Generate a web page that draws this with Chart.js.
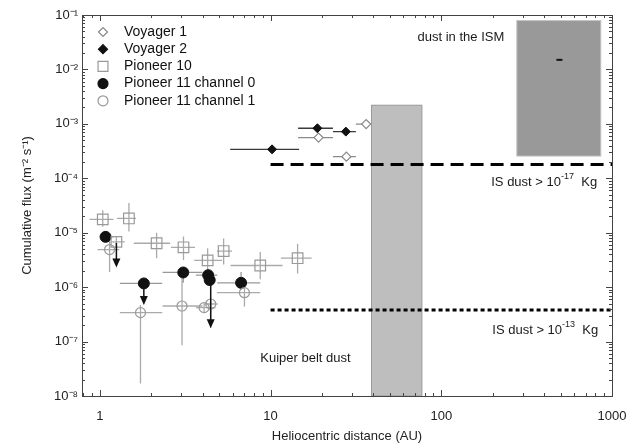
<!DOCTYPE html>
<html lang="en">
<head>
    <meta charset="UTF-8">
    <title>Cumulative dust flux vs heliocentric distance</title>
    <style>
        body {
            margin: 0;
            padding: 0;
            background-color: #ffffff;
        }
    </style>
</head>
<body>
    <canvas id="fluxChart" width="628" height="445"></canvas>

    <script src="https://cdn.jsdelivr.net/npm/chart.js"></script>
    <script>
        // axis ticks
        const xTickValues = [1, 10, 100, 1000];
        const yTickValues = [1e-8, 1e-7, 1e-6, 1e-5, 1e-4, 1e-3, 1e-2, 1e-1];

        // Voyager 1 (open diamonds)
        const v1X = [19.1, 27.8, 36.3];
        const v1Y = [5.6e-4, 2.5e-4, 9.9e-4];
        const v1XLo = [14.5, 23.2, 31.6];
        const v1XHi = [23.2, 31.6, 38.6];

        // Voyager 2 (filled diamonds)
        const v2X = [10.2, 18.8, 27.6];
        const v2Y = [3.4e-4, 8.3e-4, 7.2e-4];
        const v2XLo = [5.8, 14.5, 23.2];
        const v2XHi = [14.7, 23.2, 31.6];

        // Pioneer 10 (open squares)
        const p10X = [1.04, 1.48, 1.25, 2.15, 3.09, 4.28, 5.31, 8.7, 14.4];
        const p10Y = [1.76e-5, 1.83e-5, 6.8e-6, 6.4e-6, 5.4e-6, 3.1e-6, 4.6e-6, 2.5e-6, 3.4e-6];
        const p10XLo = [0.87, 1.26, 1.17, 1.58, 2.61, 3.57, 4.85, 5.83, 11.5];
        const p10XHi = [1.2, 1.63, 1.4, 2.58, 3.61, 5.2, 5.95, 11.75, 17.4];
        const p10YLo = [1.29e-5, 1.05e-5, 4.7e-6, 3.4e-6, 3.16e-6, 1.9e-6, 2.6e-6, 1.4e-6, 1.78e-6];
        const p10YHi = [2.6e-5, 3.5e-5, 8.5e-6, 1.0e-5, 8.5e-6, 5.2e-6, 7.8e-6, 4.4e-6, 6.3e-6];

        // Pioneer 11 channel 0 (filled circles)
        const p11aX = [1.08, 1.81, 3.08, 4.31, 4.4, 6.72];
        const p11aY = [8.4e-6, 1.17e-6, 1.86e-6, 1.66e-6, 1.35e-6, 1.2e-6];
        const p11aXLo = [1.0, 1.31, 2.33, 3.65, 4.2, 4.87];
        const p11aXHi = [1.2, 2.32, 3.99, 4.87, 4.6, 8.7];
        const p11aYLo = [7.5e-6, 1.17e-6, 1.2e-6, 1.5e-6, 1.35e-6, 8.9e-7];
        const p11aYHi = [9.5e-6, 1.17e-6, 2.2e-6, 1.85e-6, 1.35e-6, 1.9e-6];

        // Pioneer 11 channel 1 (open circles)
        const p11bX = [1.14, 1.73, 3.03, 4.08, 4.46, 7.03];
        const p11bY = [4.9e-6, 3.4e-7, 4.5e-7, 4.2e-7, 4.9e-7, 7.9e-7];
        const p11bXLo = [0.97, 1.31, 2.33, 3.65, 4.1, 4.85];
        const p11bXHi = [1.3, 2.32, 3.99, 4.76, 4.9, 8.7];
        const p11bYLo = [1.9e-6, 1.7e-8, 8.6e-8, 3.5e-7, 1.8e-7, 4.4e-7];
        const p11bYHi = [7.4e-6, 4.7e-7, 1.55e-6, 5.0e-7, 6.0e-7, 1.26e-6];

        // upper limits (arrows)
        const limX = [1.25, 1.81, 4.46];
        const limFrom = [6.5e-6, 1.17e-6, 1.35e-6];
        const limTo = [2.3e-6, 4.7e-7, 1.76e-7];

        // interstellar dust point
        const ismX = [492];
        const ismY = [1.5e-2];

        // shaded regions
        const kuiperX = [39, 77];
        const kuiperY = [1e-8, 2.2e-3];
        const ismBoxX = [277, 860];
        const ismBoxY = [2.56e-4, 7.9e-2];

        // IS dust flux levels
        const isLineX = [10, 1000];
        const is17Y = [1.8e-4, 1.8e-4];
        const is13Y = [3.8e-7, 3.8e-7];

        const legendItems = ['Voyager 1', 'Voyager 2', 'Pioneer 10', 'Pioneer 11 channel 0', 'Pioneer 11 channel 1'];

        const FONT = "'Liberation Sans', Arial, sans-serif";
        const SUP = { '-': '\u207B', '0': '\u2070', '1': '\u00B9', '2': '\u00B2', '3': '\u00B3', '4': '\u2074', '5': '\u2075', '6': '\u2076', '7': '\u2077', '8': '\u2078', '9': '\u2079' };

        function toPoints(xv, yv) {
            return xv.map((x, i) => ({ x: x, y: yv[i] }));
        }

        function rich(ctx, segs, x, y, align) {
            const base = '13px ' + FONT, small = '9px ' + FONT;
            let w = 0;
            segs.forEach(s => { ctx.font = s.sup ? small : base; w += ctx.measureText(s.t).width; });
            let cx = align === 'right' ? x - w : (align === 'center' ? x - w / 2 : x);
            ctx.textAlign = 'left';
            ctx.textBaseline = 'middle';
            segs.forEach(s => {
                ctx.font = s.sup ? small : base;
                ctx.fillText(s.t, cx, s.sup ? y - 6 : y);
                cx += ctx.measureText(s.t).width;
            });
        }

        function errorBars(ctx, px, py, X, Y, XLo, XHi, YLo, YHi, color) {
            ctx.strokeStyle = color;
            ctx.lineWidth = 1.3;
            ctx.beginPath();
            X.forEach((x, i) => {
                ctx.moveTo(px(XLo[i]), py(Y[i]));
                ctx.lineTo(px(XHi[i]), py(Y[i]));
                if (YLo) {
                    ctx.moveTo(px(x), py(YLo[i]));
                    ctx.lineTo(px(x), py(YHi[i]));
                }
            });
            ctx.stroke();
        }

        const extras = {
            id: 'extras',
            beforeDatasetsDraw(chart) {
                const ctx = chart.ctx;
                const px = v => chart.scales.x.getPixelForValue(v);
                const py = v => chart.scales.y.getPixelForValue(v);
                ctx.save();
                // shaded regions
                ctx.fillStyle = '#bebebe';
                ctx.strokeStyle = '#9a9a9a';
                ctx.lineWidth = 1;
                ctx.fillRect(px(kuiperX[0]), py(kuiperY[1]), px(kuiperX[1]) - px(kuiperX[0]), py(kuiperY[0]) - py(kuiperY[1]));
                ctx.strokeRect(px(kuiperX[0]), py(kuiperY[1]), px(kuiperX[1]) - px(kuiperX[0]), py(kuiperY[0]) - py(kuiperY[1]));
                ctx.fillStyle = '#999999';
                ctx.strokeStyle = '#c4c4c4';
                ctx.fillRect(px(ismBoxX[0]), py(ismBoxY[1]), px(ismBoxX[1]) - px(ismBoxX[0]), py(ismBoxY[0]) - py(ismBoxY[1]));
                ctx.strokeRect(px(ismBoxX[0]), py(ismBoxY[1]), px(ismBoxX[1]) - px(ismBoxX[0]), py(ismBoxY[0]) - py(ismBoxY[1]));
                // error bars
                errorBars(ctx, px, py, p10X, p10Y, p10XLo, p10XHi, p10YLo, p10YHi, '#aaaaaa');
                errorBars(ctx, px, py, p11bX, p11bY, p11bXLo, p11bXHi, p11bYLo, p11bYHi, '#aaaaaa');
                errorBars(ctx, px, py, p11aX, p11aY, p11aXLo, p11aXHi, p11aYLo, p11aYHi, '#999999');
                errorBars(ctx, px, py, v1X, v1Y, v1XLo, v1XHi, null, null, '#8a8a8a');
                errorBars(ctx, px, py, v2X, v2Y, v2XLo, v2XHi, null, null, '#3a3a3a');
                ctx.restore();
            },
            afterDatasetsDraw(chart) {
                const ctx = chart.ctx;
                const area = chart.chartArea;
                const px = v => chart.scales.x.getPixelForValue(v);
                const py = v => chart.scales.y.getPixelForValue(v);
                ctx.save();

                // upper-limit arrows
                ctx.strokeStyle = '#111';
                ctx.fillStyle = '#111';
                ctx.lineWidth = 1.5;
                limX.forEach((x, i) => {
                    const X = px(x), y0 = py(limFrom[i]), y1 = py(limTo[i]);
                    ctx.beginPath();
                    ctx.moveTo(X, y0);
                    ctx.lineTo(X, y1 - 8);
                    ctx.stroke();
                    ctx.beginPath();
                    ctx.moveTo(X - 4, y1 - 9);
                    ctx.lineTo(X + 4, y1 - 9);
                    ctx.lineTo(X, y1);
                    ctx.closePath();
                    ctx.fill();
                });

                // frame and inward ticks
                ctx.strokeStyle = '#444';
                ctx.lineWidth = 1;
                ctx.strokeRect(area.left + 0.5, area.top + 0.5, area.right - area.left, area.bottom - area.top);
                ctx.beginPath();
                for (let e = -1; e <= 3; e++) {
                    for (let k = 1; k <= 9; k++) {
                        const v = k * Math.pow(10, e);
                        if (v < chart.scales.x.min || v > chart.scales.x.max) continue;
                        const X = Math.round(px(v)) + 0.5, len = k === 1 ? 6 : 3;
                        ctx.moveTo(X, area.bottom); ctx.lineTo(X, area.bottom - len);
                        ctx.moveTo(X, area.top); ctx.lineTo(X, area.top + len);
                    }
                }
                for (let e = -8; e <= -1; e++) {
                    for (let k = 1; k <= 9; k++) {
                        const v = k * Math.pow(10, e);
                        if (v < chart.scales.y.min || v > chart.scales.y.max * 1.0001) continue;
                        const Y = Math.round(py(v)) + 0.5, len = k === 1 ? 6 : 3;
                        ctx.moveTo(area.left, Y); ctx.lineTo(area.left + len, Y);
                        ctx.moveTo(area.right, Y); ctx.lineTo(area.right - len, Y);
                    }
                }
                ctx.stroke();

                // annotations
                ctx.fillStyle = '#1a1a1a';
                rich(ctx, [{ t: 'dust in the ISM' }], px(72.6), py(3.8e-2), 'left');
                rich(ctx, [{ t: 'IS dust > 10' }, { t: '-17', sup: true }, { t: '  Kg' }], px(818), py(8.5e-5), 'right');
                rich(ctx, [{ t: 'IS dust > 10' }, { t: '-13', sup: true }, { t: '  Kg' }], px(830), py(1.62e-7), 'right');
                rich(ctx, [{ t: 'Kuiper belt dust' }], px(8.7), py(4.8e-8), 'left');

                // legend
                const styles = [
                    { pointStyle: 'rectRot', radius: 4.5, fill: '#fff', stroke: '#888' },
                    { pointStyle: 'rectRot', radius: 4.5, fill: '#111', stroke: '#111' },
                    { pointStyle: 'rect', radius: 7, fill: '#fff', stroke: '#999' },
                    { pointStyle: 'circle', radius: 5, fill: '#111', stroke: '#111' },
                    { pointStyle: 'circle', radius: 5, fill: '#fff', stroke: '#999' }
                ];
                legendItems.forEach((label, i) => {
                    const lx = area.left + 21, ly = area.top + 17 + i * 17.2;
                    ctx.fillStyle = styles[i].fill;
                    ctx.strokeStyle = styles[i].stroke;
                    ctx.lineWidth = 1.2;
                    Chart.helpers.drawPoint(ctx, { pointStyle: styles[i].pointStyle, radius: styles[i].radius, rotation: 0, borderWidth: 1.2 }, lx, ly);
                    ctx.fillStyle = '#111';
                    ctx.font = '14px ' + FONT;
                    ctx.textAlign = 'left';
                    ctx.textBaseline = 'middle';
                    ctx.fillText(label, area.left + 42, ly);
                });
                ctx.restore();
            }
        };

        function supLabel(v) {
            const e = Math.round(Math.log10(v));
            return '10' + String(e).split('').map(c => SUP[c]).join('');
        }

        const ctx = document.getElementById('fluxChart').getContext('2d');
        const chart = new Chart(ctx, {
            type: 'scatter',
            data: {
                datasets: [
                    {
                        label: 'IS dust > 1e-17 Kg',
                        data: toPoints(isLineX, is17Y),
                        showLine: true,
                        borderColor: '#000',
                        borderWidth: 3,
                        borderDash: [13, 7],
                        pointRadius: 0
                    },
                    {
                        label: 'IS dust > 1e-13 Kg',
                        data: toPoints(isLineX, is13Y),
                        showLine: true,
                        borderColor: '#000',
                        borderWidth: 3,
                        borderDash: [4, 3],
                        pointRadius: 0
                    },
                    {
                        label: 'Voyager 1',
                        data: toPoints(v1X, v1Y),
                        pointStyle: 'rectRot',
                        pointRadius: 4.5,
                        backgroundColor: '#fff',
                        borderColor: '#888',
                        borderWidth: 1.2
                    },
                    {
                        label: 'Voyager 2',
                        data: toPoints(v2X, v2Y),
                        pointStyle: 'rectRot',
                        pointRadius: 4.5,
                        backgroundColor: '#111',
                        borderColor: '#111',
                        borderWidth: 1
                    },
                    {
                        label: 'Pioneer 10',
                        data: toPoints(p10X, p10Y),
                        pointStyle: 'rect',
                        pointRadius: 7.5,
                        backgroundColor: 'rgba(255,255,255,0)',
                        borderColor: '#999',
                        borderWidth: 1.2
                    },
                    {
                        label: 'Pioneer 11 channel 1',
                        data: toPoints(p11bX, p11bY),
                        pointStyle: 'circle',
                        pointRadius: 5,
                        backgroundColor: 'rgba(255,255,255,0)',
                        borderColor: '#999',
                        borderWidth: 1.2
                    },
                    {
                        label: 'Pioneer 11 channel 0',
                        data: toPoints(p11aX, p11aY),
                        pointStyle: 'circle',
                        pointRadius: 5.5,
                        backgroundColor: '#111',
                        borderColor: '#111',
                        borderWidth: 1
                    },
                    {
                        label: 'ISM',
                        data: toPoints(ismX, ismY),
                        pointStyle: 'line',
                        pointRadius: 3,
                        borderColor: '#111',
                        borderWidth: 2
                    }
                ]
            },
            options: {
                responsive: false,
                animation: false,
                events: [],
                layout: { padding: { top: 15, right: 16, left: 0, bottom: 0 } },
                plugins: {
                    legend: { display: false },
                    tooltip: { enabled: false }
                },
                scales: {
                    x: {
                        type: 'logarithmic',
                        min: 0.786,
                        max: 1000,
                        grid: { display: false, drawTicks: false },
                        border: { display: false },
                        afterBuildTicks: s => { s.ticks = xTickValues.map(v => ({ value: v })); },
                        afterFit: s => { s.height = 49; s.paddingLeft = 0; s.paddingRight = 0; },
                        ticks: {
                            padding: 13,
                            maxRotation: 0,
                            autoSkip: false,
                            color: '#222',
                            font: { family: FONT, size: 13 },
                            callback: v => String(v)
                        },
                        title: {
                            display: true,
                            text: 'Heliocentric distance (AU)',
                            color: '#222',
                            font: { family: FONT, size: 13 },
                            padding: { top: 0, bottom: 1 }
                        }
                    },
                    y: {
                        type: 'logarithmic',
                        min: 1e-8,
                        max: 1e-1,
                        grid: { display: false, drawTicks: false },
                        border: { display: false },
                        afterBuildTicks: s => { s.ticks = yTickValues.map(v => ({ value: v })); },
                        afterFit: s => { s.width = 82; s.paddingTop = 0; s.paddingBottom = 0; },
                        ticks: {
                            padding: 4,
                            autoSkip: false,
                            color: '#222',
                            font: { family: FONT, size: 13 },
                            callback: v => supLabel(v)
                        },
                        title: {
                            display: true,
                            text: 'Cumulative flux (m\u207B\u00B2 s\u207B\u00B9)',
                            color: '#222',
                            font: { family: FONT, size: 13 },
                            padding: { top: 20, bottom: 0 }
                        }
                    }
                }
            },
            plugins: [extras]
        });
    </script>
</body>
</html>
